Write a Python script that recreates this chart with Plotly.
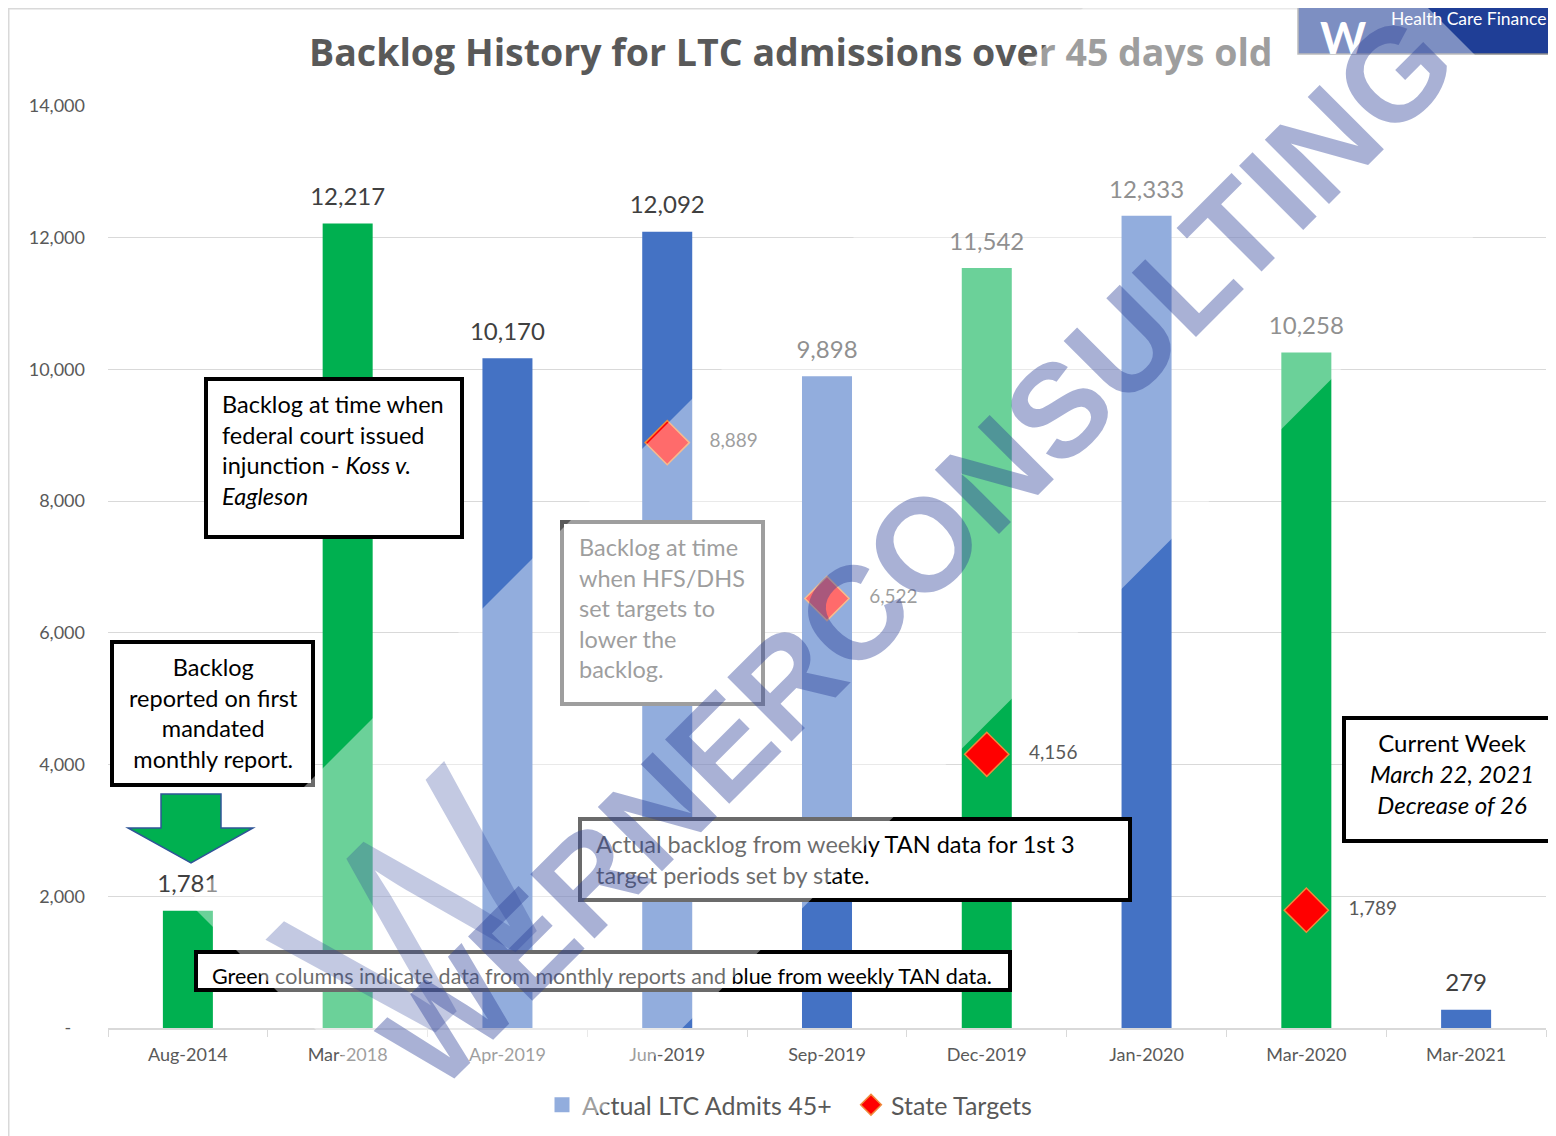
import plotly.graph_objects as go

# ---------------- data ----------------
categories = ["Aug-2014", "Mar-2018", "Apr-2019", "Jun-2019", "Sep-2019",
              "Dec-2019", "Jan-2020", "Mar-2020", "Mar-2021"]
backlog = [1781, 12217, 10170, 12092, 9898, 11542, 12333, 10258, 279]
data_source = ["monthly", "monthly", "weekly", "weekly", "weekly",
               "monthly", "weekly", "monthly", "weekly"]
target_categories = ["Jun-2019", "Sep-2019", "Dec-2019", "Mar-2020"]
targets = [8889, 6522, 4156, 1789]
y_ticks = [0, 2000, 4000, 6000, 8000, 10000, 12000, 14000]
y_tick_labels = ["-\u00a0\u00a0\u00a0", "2,000", "4,000", "6,000", "8,000", "10,000", "12,000", "14,000"]

# ---------------- style ----------------
GREEN = "#00B050"
BLUE = "#4472C4"
GREY_TXT = "#595959"
DARK_TXT = "#404040"
GRID = "#D9D9D9"
FONT = "Lato"

OFF = 8                      # page (body) margin of the html page
W, H = 1548, 1128
ML, MR, MT, MB = 100, 10, 98, 108
PW = W - ML - MR
PH = H - MT - MB


def px(x):
    """page pixel x -> paper x"""
    return (x - OFF - ML) / PW


def py(y):
    """page pixel y -> paper y"""
    return (H - MB - (y - OFF)) / PH


bar_colors = [GREEN if s == "monthly" else BLUE for s in data_source]

fig = go.Figure()

fig.add_trace(go.Bar(
    x=categories, y=backlog, marker=dict(color=bar_colors, line=dict(width=0)),
    showlegend=False, hoverinfo="skip",
))
# bar value labels
fig.add_trace(go.Scatter(
    x=categories, y=backlog, mode="markers+text",
    marker=dict(size=18, opacity=0),
    texttemplate="%{y:,}", textposition="top center",
    textfont=dict(family=FONT, size=24, color=DARK_TXT),
    showlegend=False, hoverinfo="skip",
))
# legend entry for the columns
fig.add_trace(go.Scatter(
    x=[None], y=[None], mode="markers", name="Actual LTC Admits 45+",
    marker=dict(symbol="square", size=15, color=BLUE),
))
# state targets
fig.add_trace(go.Scatter(
    x=target_categories, y=targets, mode="markers", name="State Targets",
    marker=dict(symbol="diamond", size=34, color="#FF0000",
                line=dict(color="#F08A3C", width=1.5)),
    hoverinfo="skip",
))
# target labels
fig.add_trace(go.Scatter(
    x=target_categories, y=targets, mode="markers+text",
    marker=dict(size=66, opacity=0),
    texttemplate="%{y:,}", textposition="middle right",
    textfont=dict(family=FONT, size=19, color=GREY_TXT),
    showlegend=False, hoverinfo="skip",
))

shapes = []
# chart frame
shapes.append(dict(type="line", xref="paper", yref="paper",
                   x0=px(8.75), x1=px(8.75), y0=py(8), y1=py(H + OFF), line=dict(color=GRID, width=1.5)))
shapes.append(dict(type="line", xref="paper", yref="paper",
                   x0=px(8), x1=px(1298), y0=py(8.75), y1=py(8.75), line=dict(color=GRID, width=1.5)))
# logo block
shapes.append(dict(type="rect", xref="paper", yref="paper",
                   x0=px(1298), x1=px(1570), y0=py(-5), y1=py(54),
                   fillcolor="#1F3E96", line=dict(color="#8C8C8C", width=1.5), layer="above"))
# green arrow
arrow_pts = [(161, 794), (221, 794), (221, 828), (253, 828), (191, 863), (128, 828), (161, 828)]
path = "M " + " L ".join(f"{px(a):.5f},{py(b):.5f}" for a, b in arrow_pts) + " Z"
shapes.append(dict(type="path", xref="paper", yref="paper", path=path,
                   fillcolor=GREEN, line=dict(color="#2F5597", width=1.5), layer="above"))

annotations = []
# title
annotations.append(dict(
    xref="paper", yref="paper", x=px(791), y=py(52), xanchor="center", yanchor="middle",
    text="<b>Backlog History for LTC admissions over 45 days old</b>", showarrow=False,
    font=dict(family="Open Sans", size=37.5, color=GREY_TXT)))
# logo texts
annotations.append(dict(
    xref="paper", yref="paper", x=px(1343), y=py(37), xanchor="center", yanchor="middle",
    text="<b>W</b>", showarrow=False, font=dict(family=FONT, size=44, color="white")))
annotations.append(dict(
    xref="paper", yref="paper", x=px(1389), y=py(19), xanchor="left", yanchor="middle",
    text="Health Care Finance", showarrow=False, font=dict(family=FONT, size=17.5, color="white")))


def box(x0, y0, x1, y1, text, tx, ty, align="left", size=23.5,
        color="black", bcolor="black", bw=4):
    shapes.append(dict(type="rect", xref="paper", yref="paper",
                       x0=px(x0 + bw / 2), x1=px(x1 - bw / 2),
                       y0=py(y0 + bw / 2), y1=py(y1 - bw / 2),
                       fillcolor="white", line=dict(color=bcolor, width=bw), layer="above"))
    annotations.append(dict(
        xref="paper", yref="paper", x=px(tx), y=py(ty), xanchor=align, yanchor="middle",
        text=text, align=align, showarrow=False, borderpad=0, borderwidth=0,
        font=dict(family=FONT, size=size, color=color)))


box(204, 377, 464, 539,
    "Backlog at time when<br>federal court issued<br>injunction - <i>Koss v.</i><br><i>Eagleson</i>",
    222, 449.5)
box(110, 640, 315, 787, "Backlog<br>reported on first<br>mandated<br>monthly report.",
    213, 712.5, align="center")
box(560, 520, 765, 706, "Backlog at time<br>when HFS/DHS<br>set targets to<br>lower the<br>backlog.",
    579, 608, color=GREY_TXT, bcolor=GREY_TXT)
box(578, 817, 1132, 902,
    "Actual backlog from weekly TAN data for 1st 3<br>target periods set by state.", 596, 859.5)
box(194, 950, 1012, 992,
    "Green columns indicate data from monthly reports and blue from weekly TAN data.",
    212, 976, size=21.5)
box(1342, 716, 1572, 843,
    "Current Week<br><i>March 22, 2021</i><br><i>Decrease of 26</i>", 1452, 773, align="center",
    size=24)

# watermark: lightening band, big logo W and text
annotations.append(dict(
    xref="paper", yref="paper", x=px(876.5), y=py(523.5), xanchor="center", yanchor="middle",
    text=" ", showarrow=False, width=1509, height=438, textangle=-45,
    bgcolor="rgba(255,255,255,0.42)", borderwidth=0, borderpad=0))
annotations.append(dict(
    xref="paper", yref="paper", x=px(420), y=py(915), xanchor="center", yanchor="middle",
    text="W", showarrow=False, textangle=-45,
    font=dict(family="Liberation Sans", size=270, color="rgba(40,60,150,0.28)")))
annotations.append(dict(
    xref="paper", yref="paper", x=px(918), y=py(550), xanchor="center", yanchor="middle",
    text="<b>WERNERCONSULTING</b>", showarrow=False, textangle=-45,
    font=dict(family="Liberation Sans", size=132, color="rgba(40,60,150,0.40)")))

fig.update_layout(
    width=W, height=H,
    margin=dict(l=ML, r=MR, t=MT, b=MB, autoexpand=False),
    paper_bgcolor="white", plot_bgcolor="white",
    bargap=0.687, barmode="overlay",
    font=dict(family=FONT, color=GREY_TXT),
    showlegend=True,
    legend=dict(orientation="h", x=px(542), y=py(1105), xanchor="left", yanchor="middle",
                font=dict(family=FONT, size=25, color=GREY_TXT), bgcolor="rgba(0,0,0,0)",
                itemwidth=30, entrywidth=264, entrywidthmode="pixels"),
    xaxis=dict(type="category", range=[-0.5, 8.5], showgrid=False, showline=True,
               linecolor=GRID, linewidth=1.5,
               ticks="outside", tickson="boundaries", ticklen=7, tickcolor=GRID,
               tickfont=dict(family=FONT, size=18, color=GREY_TXT), ticklabelstandoff=10,
               fixedrange=True),
    yaxis=dict(range=[0, 14000], tickvals=y_ticks, ticktext=y_tick_labels,
               showgrid=True, gridcolor=GRID, gridwidth=1.2, zeroline=False,
               showline=False, ticks="", ticklabelstandoff=22,
               tickfont=dict(family=FONT, size=18, color=GREY_TXT), fixedrange=True),
    shapes=shapes,
    annotations=annotations,
)

fig.write_html("out.html")
